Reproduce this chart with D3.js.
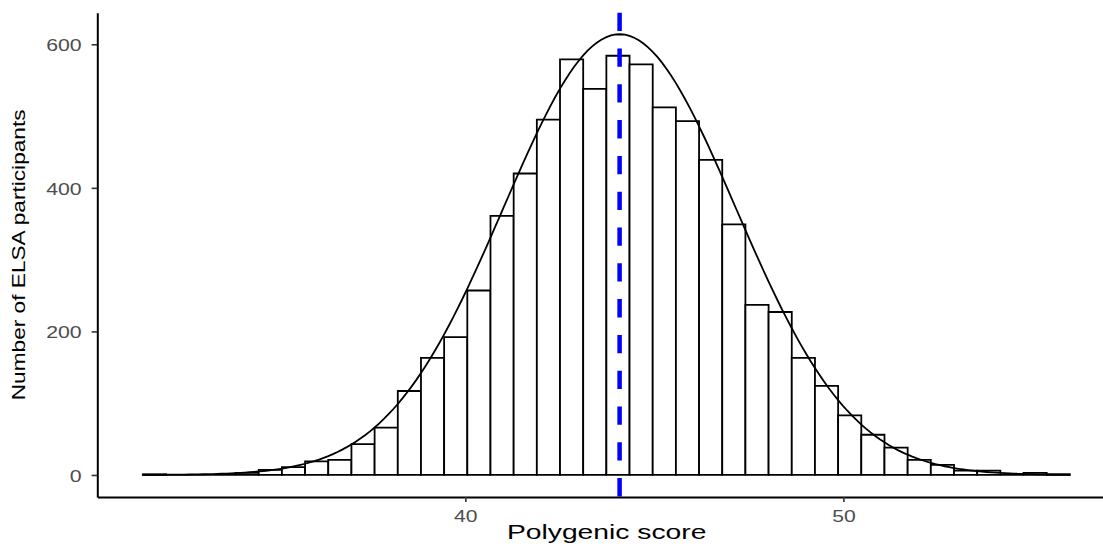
<!DOCTYPE html>
<html>
<head>
<meta charset="utf-8">
<script src="https://cdn.jsdelivr.net/npm/d3@7"></script>
<style>
  body { margin: 0; background: #fff; }
  svg { display: block; font-family: "Liberation Sans", Arial, Helvetica, sans-serif; }
</style>
</head>
<body>
<svg id="chart" width="1103" height="554"></svg>
<script>
// histogram of polygenic scores (40 bins)
const binStart = 31.47;
const binWidth = 0.613;
const counts = [1, 0, 0, 0, 3, 7, 11, 19, 21, 43,
  66, 117, 163, 192, 257, 361, 420, 495, 579, 538,
  584, 572, 512, 493, 439, 349, 237, 227, 163, 124,
  83, 56, 38, 21, 14, 6, 6, 0, 3, 1];

// normal curve overlay + mean line
const meanScore = 44.08;
const curveSd = 3.07;
const curvePeak = 614;

const xTicks = [40, 50];
const yTicks = [0, 200, 400, 600];

const xLabel = 'Polygenic score';
const yLabel = 'Number of ELSA participants';

const svg = d3.select('#chart');

// panel edges
const pLeft = 97.3, pRight = 1116, pTop = 12.7, pBottom = 497;

const x = d3.scaleLinear().domain([30.265, 57.21]).range([pLeft, pRight]);
const y = d3.scaleLinear().domain([-30.7, 644]).range([pBottom, pTop]);

let bins = counts.map((c, i) => {
  return { x0: binStart + i * binWidth, x1: binStart + (i + 1) * binWidth, n: c };
});

// bars as paths so empty bins still leave a flat line
svg.append('g')
  .selectAll('path')
  .data(bins)
  .join('path')
  .attr('d', function (d) {
    return `M${x(d.x0)},${y(0)}V${y(d.n)}H${x(d.x1)}V${y(0)}Z`;
  })
  .style('fill', '#fff')
  .style('stroke', '#000')
  .style('stroke-width', 1.8);

// normal curve
const lo = binStart, hi = binStart + counts.length * binWidth;
let curvePts = d3.range(0, 201).map(k => {
  let v = lo + (hi - lo) * k / 200;
  return [v, curvePeak * Math.exp(-Math.pow(v - meanScore, 2) / (2 * curveSd * curveSd))];
});

svg.append('path')
  .datum(curvePts)
  .attr('d', d3.line().x(d => x(d[0])).y(d => y(d[1])))
  .style('fill', 'none')
  .style('stroke', '#000')
  .style('stroke-width', 1.8);

// mean line
svg.append('line')
  .attr('x1', x(meanScore)).attr('x2', x(meanScore))
  .attr('y1', pTop).attr('y2', pBottom)
  .style('stroke', '#0000ff')
  .style('stroke-width', 4.5)
  .style('stroke-dasharray', '18.3,17.5');

// axes
const yAxis = svg.append('g')
  .attr('transform', `translate(${pLeft},0)`)
  .call(d3.axisLeft(y).tickValues(yTicks).tickSize(5.7).tickSizeOuter(0));

const xAxis = svg.append('g')
  .attr('transform', `translate(0,${pBottom})`)
  .call(d3.axisBottom(x).tickValues(xTicks).tickSize(5).tickSizeOuter(0));

[xAxis, yAxis].forEach(g => {
  g.select('.domain').style('stroke', '#000').style('stroke-width', 2);
  g.selectAll('.tick line').style('stroke', '#333').style('stroke-width', 1.6);
  g.selectAll('.tick text')
    .style('font-size', '16.5px')
    .style('fill', '#4d4d4d')
    .attr('dy', null)
    .attr('y', 0)
    .attr('x', 0);
});

yAxis.selectAll('.tick text')
  .attr('text-anchor', 'end')
  .attr('transform', 'translate(-15.6,6.3) scale(1.29,1)');

xAxis.selectAll('.tick text')
  .attr('text-anchor', 'middle')
  .attr('transform', 'translate(0,24.7) scale(1.28,1)');

// axis titles
svg.append('text')
  .attr('transform', `translate(${(pLeft + pRight) / 2},539) scale(1.45,1)`)
  .attr('text-anchor', 'middle')
  .style('font-size', '19.5px')
  .style('fill', '#000')
  .text(xLabel);

svg.append('text')
  .attr('transform', `translate(25,${(pTop + pBottom) / 2}) rotate(-90) scale(1.218,1)`)
  .attr('text-anchor', 'middle')
  .style('font-size', '18.6px')
  .style('fill', '#000')
  .text(yLabel);
</script>
</body>
</html>
